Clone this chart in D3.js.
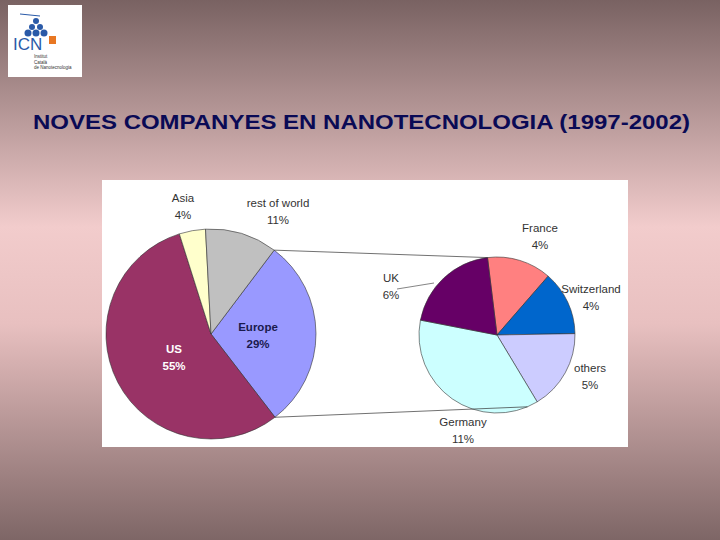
<!DOCTYPE html><html><head><meta charset="utf-8"><script src="https://cdn.jsdelivr.net/npm/d3@7"></script>
<style>body{margin:0}svg{display:block}</style></head><body><svg id="c" width="720" height="540"></svg>
<script>
const mainCats=["Europe","US","Asia","rest of world"];
const mainVals=[29,55,4,11];
const mainColors=["#9999ff","#993366","#ffffcc","#c0c0c0"];
const euCats=["France","Switzerland","others","Germany","UK"];
const euVals=[4,4,5,11,6];
const euColors=["#ff8080","#0066cc","#ccccff","#ccffff","#660066"];
const svg=d3.select("#c");
const defs=svg.append("defs");
const g=defs.append("linearGradient").attr("id","bg").attr("x1",0).attr("y1",0).attr("x2",0).attr("y2",1);
[[0,"#796262"],[0.42,"#f2cccc"],[0.6,"#e8c0c0"],[1,"#7e6666"]].forEach(s=>g.append("stop").attr("offset",s[0]).attr("stop-color",s[1]));
svg.append("rect").attr("width",720).attr("height",540).attr("fill","url(#bg)");
svg.append("rect").attr("x",8).attr("y",5).attr("width",74).attr("height",72).attr("fill","#fff");
[[36,21,3],[32,27,3],[40,27,3],[28,33,3.5],[36,33,3.5],[44,33,3.5]].forEach(c=>svg.append("circle").attr("cx",c[0]).attr("cy",c[1]).attr("r",c[2]).attr("fill","#2a5aa8"));
svg.append("line").attr("x1",20).attr("y1",14).attr("x2",40).attr("y2",16).attr("stroke","#2a5aa8");
svg.append("text").attr("x",13).attr("y",50).attr("font-family","Liberation Sans").attr("font-size",17).attr("fill","#2a5aa8").text("ICN");
svg.append("rect").attr("x",49).attr("y",36).attr("width",7).attr("height",8).attr("fill","#e87722");
["Institut","Català","de Nanotecnologia"].forEach((t,i)=>svg.append("text").attr("x",34).attr("y",58+i*5.5).attr("font-size",4.5).attr("font-family","Liberation Sans").attr("fill","#333").text(t));
svg.append("text").attr("x",33).attr("y",129).attr("font-family","Liberation Sans, Arial").attr("font-weight","bold").attr("font-size",20).attr("textLength",657).attr("lengthAdjust","spacingAndGlyphs").attr("fill","#0a0a55").text("NOVES COMPANYES EN NANOTECNOLOGIA (1997-2002)");
svg.append("rect").attr("x",102).attr("y",180).attr("width",526).attr("height",267).attr("fill","#fff");
const deg=Math.PI/180;
function pie(vals,colors,cx,cy,r,start){
  const p=d3.pie().sort(null).startAngle(start*deg).endAngle(start*deg+2*Math.PI)(vals);
  const a=d3.arc().innerRadius(0).outerRadius(r);
  svg.append("g").attr("transform",`translate(${cx},${cy})`).selectAll("path").data(p).join("path").attr("d",a).attr("fill",(d,i)=>colors[i]).attr("stroke","#333").attr("stroke-width",0.6);
  return p;
}
const mp=pie(mainVals,mainColors,211,334,105,37);
const ep=pie(euVals,euColors,497,335,78,-7);
const pt=(cx,cy,r,ang)=>[cx+r*Math.sin(ang),cy-r*Math.cos(ang)];
const e=mp[0];
const a1=pt(211,334,105,e.startAngle), a2=pt(211,334,105,e.endAngle);
const b1=pt(497,335,78,ep[0].startAngle);
svg.append("line").attr("x1",a1[0]).attr("y1",a1[1]).attr("x2",b1[0]).attr("y2",b1[1]).attr("stroke","#333").attr("stroke-width",0.7);
const b2=pt(497,335,78,ep[2].endAngle+8*deg);
svg.append("line").attr("x1",a2[0]).attr("y1",a2[1]).attr("x2",b2[0]).attr("y2",b2[1]).attr("stroke","#333").attr("stroke-width",0.7);
svg.append("line").attr("x1",397).attr("y1",289).attr("x2",434).attr("y2",283).attr("stroke","#333").attr("stroke-width",0.6);
function lab(t,p,x,y,fill,bold){
  const tx=svg.append("text").attr("text-anchor","middle").attr("font-family","Liberation Sans, Arial").attr("font-size",11.5).attr("fill",fill||"#333").attr("font-weight",bold?"bold":"normal");
  tx.append("tspan").attr("x",x).attr("y",y).text(t);
  tx.append("tspan").attr("x",x).attr("y",y+17).text(p+"%");
}
lab(mainCats[2],mainVals[2],183,202);
lab(mainCats[3],mainVals[3],278,207);
lab(mainCats[0],mainVals[0],258,331,"#1a1a4d",true);
lab("US",mainVals[1],174,353,"#fff",true);
lab(euCats[0],euVals[0],540,232);
lab(euCats[1],euVals[1],591,293);
lab(euCats[2],euVals[2],590,372);
lab(euCats[3],euVals[3],463,426);
lab(euCats[4],euVals[4],391,282);
</script></body></html>
